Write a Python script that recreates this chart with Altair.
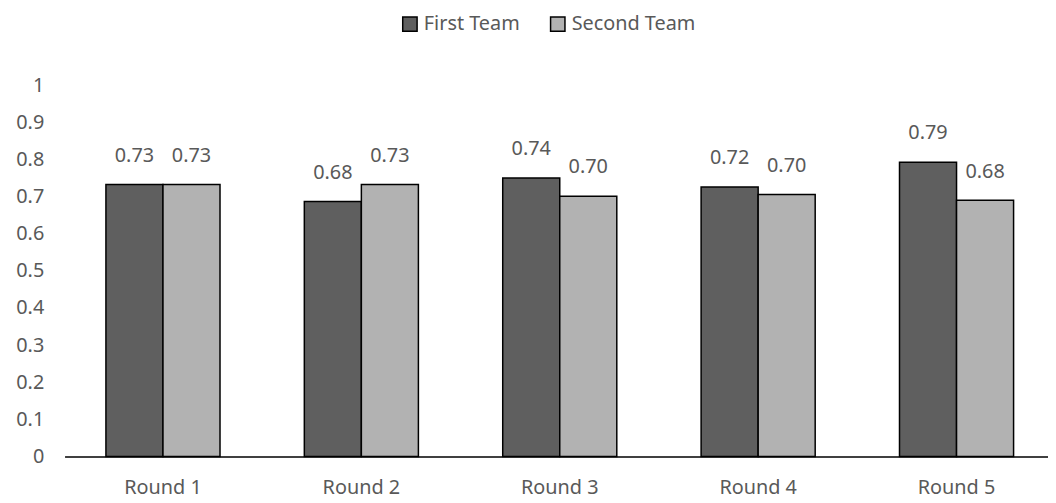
import altair as alt
import pandas as pd

rounds = ["Round 1", "Round 2", "Round 3", "Round 4", "Round 5"]
teams = ["First Team", "Second Team"]
first_team = [0.733, 0.687, 0.750, 0.726, 0.793]
second_team = [0.733, 0.733, 0.701, 0.706, 0.690]
first_labels = ["0.73", "0.68", "0.74", "0.72", "0.79"]
second_labels = ["0.73", "0.73", "0.70", "0.70", "0.68"]
y_ticks = [0, 0.1, 0.2, 0.3, 0.4, 0.5, 0.6, 0.7, 0.8, 0.9, 1]
team_colors = ["#5f5f5f", "#b2b2b2"]

rows = []
for i, r in enumerate(rounds):
    rows.append({"round": r, "team": teams[0], "value": first_team[i], "label": first_labels[i]})
    rows.append({"round": r, "team": teams[1], "value": second_team[i], "label": second_labels[i]})
df = pd.DataFrame(rows)

FONT = "Noto Sans"
TXT = "#595959"
FS = 20

x = alt.X("round:N", sort=rounds, title=None,
          scale=alt.Scale(paddingInner=0.425, paddingOuter=0.2085, range=[0, 998]),
          axis=alt.Axis(labelAngle=0, ticks=False, domainColor="#000000", domainWidth=1.5,
                        labelFontSize=FS, labelColor=TXT, labelFont=FONT, labelPadding=21,
                        grid=False))
xo = alt.XOffset("team:N", sort=teams, scale=alt.Scale(paddingInner=0, paddingOuter=0))
y = alt.Y("value:Q", title=None,
          scale=alt.Scale(domain=[0, 1], nice=False),
          axis=alt.Axis(values=y_ticks, labelOverlap=False, tickCount=11,
                        format="~g", grid=False, domain=False, ticks=False,
                        labelFontSize=FS, labelColor=TXT, labelFont=FONT, labelPadding=21))

base = alt.Chart(df)

bars = base.mark_bar(stroke="#000000", strokeWidth=1.5).encode(
    x=x,
    xOffset=xo,
    y=y,
    color=alt.Color("team:N", sort=teams, title=None,
                    scale=alt.Scale(domain=teams, range=team_colors),
                    legend=alt.Legend(orient="none", legendX=338, legendY=-72,
                                      direction="horizontal", symbolType="square",
                                      symbolSize=210, symbolStrokeColor="#000000",
                                      symbolStrokeWidth=1.5, labelFontSize=FS,
                                      labelColor=TXT, labelFont=FONT, columnPadding=27,
                                      symbolOpacity=1, labelOffset=4)),
)

labels = base.mark_text(baseline="alphabetic", dy=-23, fontSize=FS, font=FONT, color=TXT).encode(
    x=x,
    xOffset=xo,
    y=y,
    text=alt.Text("label:N"),
)

chart = alt.layer(bars, labels).properties(
    width=991, height=374,
    autosize=alt.AutoSizeParams(type="none"),
    padding={"left": 57, "top": 76, "right": 0, "bottom": 45},
).configure(background="#ffffff").configure_view(stroke=None).configure_axis(labelOverlap=False)

chart.save("out.html", embed_options={"renderer": "svg", "actions": False})
